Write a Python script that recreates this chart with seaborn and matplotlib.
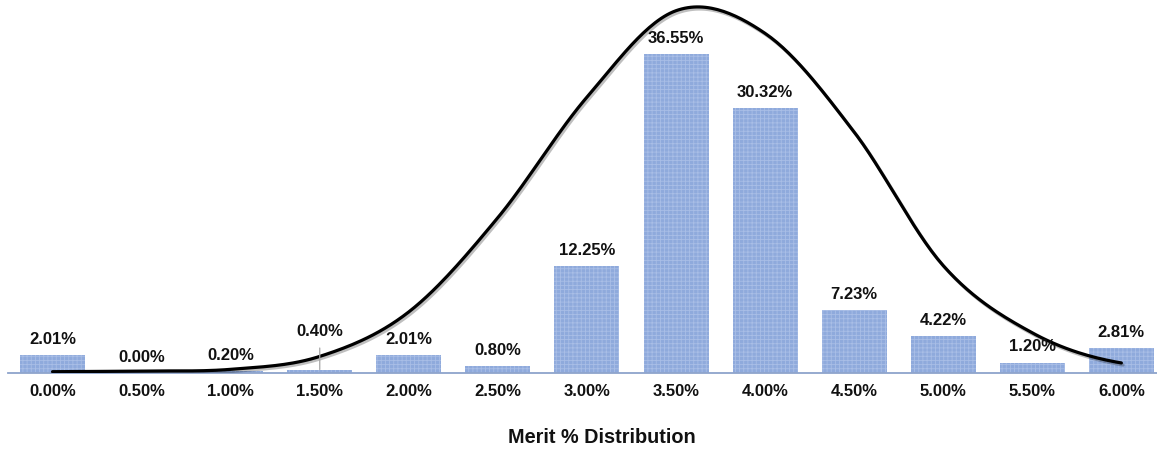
import numpy as np
import pandas as pd
import matplotlib
matplotlib.use("Agg")
import matplotlib.pyplot as plt
from matplotlib import patheffects as pe
import seaborn as sns

# ---------------- data ----------------
merit_rates = ["0.00%", "0.50%", "1.00%", "1.50%", "2.00%", "2.50%", "3.00%",
               "3.50%", "4.00%", "4.50%", "5.00%", "5.50%", "6.00%"]
share_pct = [2.01, 0.00, 0.20, 0.40, 2.01, 0.80, 12.25, 36.55, 30.32, 7.23, 4.22, 1.20, 2.81]
curve_pct = [0.15, 0.23, 0.42, 1.9, 7.0, 17.8, 31.6, 41.5, 38.9, 27.6, 12.3, 4.6, 1.15]
x_title = "Merit % Distribution"

# ---------------- style ----------------
sns.set_theme(style="white")
plt.rcParams["font.family"] = ["Liberation Sans", "DejaVu Sans"]
plt.rcParams["hatch.linewidth"] = 0.6

BAR = "#8FAADC"
HATCH = "#A9BEE6"
AXIS = "#8EA4CC"
TXT = "#111111"

W, H = 1157, 450
fig = plt.figure(figsize=(W / 100, H / 100), dpi=100)
ax = fig.add_axes([8 / W, 77 / H, 1149 / W, 373 / H])

df = pd.DataFrame({"rate": merit_rates, "share": share_pct})
sns.barplot(data=df, x="rate", y="share", color=BAR, saturation=1, width=0.73,
            edgecolor=HATCH, linewidth=0, hatch="++++", ax=ax, zorder=2)


# smooth line rendering (Catmull-Rom, like a spreadsheet "smoothed line")
def catmull_rom(y, n=30):
    y = np.asarray(y, float)
    p = np.concatenate([[y[0]], y, [y[-1]]])
    xs, ys = [], []
    for i in range(len(y) - 1):
        p0, p1, p2, p3 = p[i], p[i + 1], p[i + 2], p[i + 3]
        t = np.linspace(0, 1, n, endpoint=(i == len(y) - 2))
        m1 = (p2 - p0) / 2
        m2 = (p3 - p1) / 2
        h00 = 2 * t**3 - 3 * t**2 + 1
        h10 = t**3 - 2 * t**2 + t
        h01 = -2 * t**3 + 3 * t**2
        h11 = t**3 - t**2
        ys.append(h00 * p1 + h10 * m1 + h01 * p2 + h11 * m2)
        xs.append(i + t)
    return np.concatenate(xs), np.concatenate(ys)


cx, cy = catmull_rom(curve_pct)
sns.lineplot(x=cx, y=cy, sort=False, color="black", linewidth=2.3, ax=ax, zorder=4,
             path_effects=[pe.SimpleLineShadow(offset=(1.2, -1.5), shadow_color="black", alpha=0.25),
                           pe.Normal()])

# value labels
label_offset = {3: 24}
for i, v in enumerate(share_pct):
    off = label_offset.get(i, 8)
    kw = dict(xy=(i, v), xytext=(0, off), textcoords="offset points",
              ha="center", va="baseline", fontsize=12, fontweight="bold",
              color=TXT, zorder=5)
    if i in label_offset:
        kw["arrowprops"] = dict(arrowstyle="-", color="#A6A6A6", lw=0.9,
                                shrinkA=4, shrinkB=0)
    ax.annotate(f"{v:.2f}%", **kw)

ax.set_xlim(-0.5, 12.4)
ax.set_ylim(0, 373 / 8.73)
ax.set_yticks([])
ax.set_ylabel("")
ax.tick_params(axis="x", length=0, pad=8, labelsize=12, colors=TXT)
for lab in ax.get_xticklabels():
    lab.set_fontweight("bold")

for s in ["left", "top", "right"]:
    ax.spines[s].set_visible(False)
ax.spines["bottom"].set_color(AXIS)
ax.spines["bottom"].set_linewidth(1.3)
ax.spines["bottom"].set_zorder(3)

ax.set_xlabel(x_title, fontsize=14.3, fontweight="bold", color=TXT)
ax.xaxis.set_label_coords(0.517, -0.174)
ax.xaxis.label.set_va("center")

fig.savefig("out.png", dpi=100, facecolor="white")
